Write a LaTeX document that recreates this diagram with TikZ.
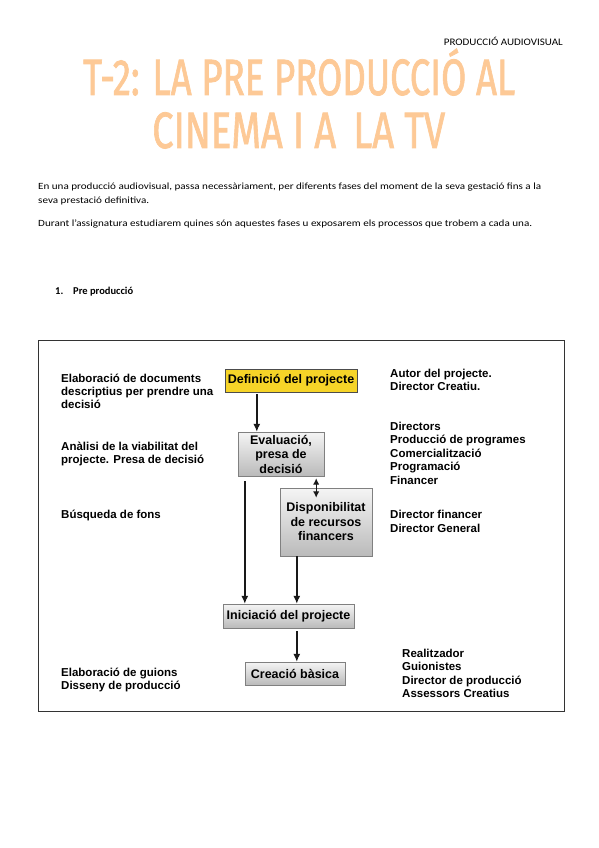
\documentclass[tikz,border=0pt]{standalone}
\usepackage{fontspec}
\setmainfont{Liberation Sans}
\newfontfamily\bodyfont{Carlito}
\newfontfamily\titlefont[FakeBold=1.6]{Fira Sans}
\usetikzlibrary{arrows.meta}
\definecolor{peach}{RGB}{253,201,150}
\definecolor{gold}{RGB}{246,212,40}
\begin{document}
\begin{tikzpicture}[x=1pt,y=-1pt,
  lab/.style={anchor=base west, inner sep=0pt, font=\bfseries\fontsize{11.5}{13}\selectfont},
  body/.style={anchor=base west, inner sep=0pt, font=\bodyfont\fontsize{9.5}{11}\selectfont},
  ttl/.style={anchor=base west, inner sep=0pt, text=peach, font=\titlefont\fontsize{51}{51}\selectfont},
  gbox/.style={draw=black!50, inner sep=0pt, align=center, top color=black!4, bottom color=black!27,
     font=\bfseries\fontsize{12.5}{14.5}\selectfont},
  ybox/.style={draw=black!70, fill=gold, inner sep=0pt, align=center,
     font=\bfseries\fontsize{12.5}{14.5}\selectfont},
  arr/.style={line width=1.4pt, draw=black!90, -{Latex[length=8pt,width=7pt]}},
  darr/.style={line width=1.4pt, draw=black!90, {Latex[length=6.5pt,width=6.5pt]}-{Latex[length=6.5pt,width=6.5pt]}}]
\useasboundingbox (0,0) rectangle (599,848);
\fill[white] (0,0) rectangle (599,848);

% header and title
\node[anchor=base east, inner sep=0pt] (hdr) at (563,46)
  {\resizebox{119pt}{\height}{\bodyfont\fontsize{10}{12}\selectfont PRODUCCIÓ AUDIOVISUAL}};
\node[ttl] (t1) at (83,95) {\resizebox{432pt}{\height}{T-2: LA PRE PRODUCCIÓ AL}};
\node[ttl] (t2) at (152,148) {\resizebox{293pt}{\height}{CINEMA I A\hspace{0.45em}LA TV}};

% body text
\node[body] (p1) at (38,189) {\resizebox{503pt}{\height}{En una producció audiovisual, passa necessàriament, per diferents fases del moment de la seva gestació fins a la}};
\node[body] (p2) at (38,203) {\resizebox{111pt}{\height}{seva prestació definitiva.}};
\node[body] (p3) at (38,226) {\resizebox{494pt}{\height}{Durant l’assignatura estudiarem quines són aquestes fases u exposarem els processos que trobem a cada una.}};
\node[body, font=\bodyfont\bfseries\fontsize{10.5}{12}\selectfont] (n1) at (55,294) {1.};
\node[body, font=\bodyfont\bfseries\fontsize{10.5}{12}\selectfont] (n1t) at (73,294) {Pre producció};

% frame
\draw[line width=0.8pt, black!80] (38,340) rectangle (564,711);

% boxes
\node[ybox, minimum width=132pt, minimum height=23pt] (def) at (291,380.5) {Definició del projecte};
\node[gbox, minimum width=86pt, minimum height=44pt] (ev) at (281,454) {Evaluació,\\presa de\\decisió};
\node[gbox, minimum width=92pt, minimum height=68pt] (disp) at (326,522) {Disponibilitat\\de recursos\\financers};
\node[gbox, minimum width=131pt, minimum height=24pt] (ini) at (288.5,616) {Iniciació del projecte};
\node[gbox, minimum width=100pt, minimum height=23pt] (cre) at (295,673.5) {Creació bàsica};

% connectors
\coordinate (c0) at ([xshift=32pt,yshift=-2pt]def.south west);
\draw[arr] (c0) -- (c0 |- ev.north);
\coordinate (c1) at ([xshift=7pt,yshift=-5pt]ev.south west);
\draw[arr] (c1) -- (c1 |- ini.north);
\coordinate (c2) at ([xshift=-8pt,yshift=-2pt]ev.south east);
\coordinate (c2e) at ([yshift=-10pt]c2 |- disp.north);
\draw[darr] (c2) -- (c2e);
\coordinate (c3) at ([xshift=17pt]disp.south west);
\draw[arr] (c3) -- (c3 |- ini.north);
\coordinate (c4) at ([yshift=-3pt]c3 |- ini.south);
\draw[arr] (c4) -- (c4 |- cre.north);

% left labels
\node[lab] (l1) at (61,382) {Elaboració de documents};
\node[lab] (l2) at (61,395) {descriptius per prendre una};
\node[lab] (l3) at (61,408) {decisió};
\node[lab] (l4) at (61,450) {Anàlisi de la viabilitat del};
\node[lab] (l5) at (61,463) {projecte. Presa de decisió};
\node[lab] (l6) at (61,518) {Búsqueda de fons};
\node[lab] (l7) at (61,676) {Elaboració de guions};
\node[lab] (l8) at (61,689) {Disseny de producció};

% right labels
\node[lab] (r1) at (390,377) {Autor del projecte.};
\node[lab] (r2) at (390,390) {Director Creatiu.};
\node[lab] (r3) at (390,430) {Directors};
\node[lab] (r4) at (390,443.5) {Producció de programes};
\node[lab] (r5) at (390,457) {Comercialització};
\node[lab] (r6) at (390,470.5) {Programació};
\node[lab] (r7) at (390,484) {Financer};
\node[lab] (r8) at (390,518) {Director financer};
\node[lab] (r9) at (390,532) {Director General};
\node[lab] (r10) at (402,657) {Realitzador};
\node[lab] (r11) at (402,670.5) {Guionistes};
\node[lab] (r12) at (402,684) {Director de producció};
\node[lab] (r13) at (402,697.5) {Assessors Creatius};
\end{tikzpicture}
\end{document}
